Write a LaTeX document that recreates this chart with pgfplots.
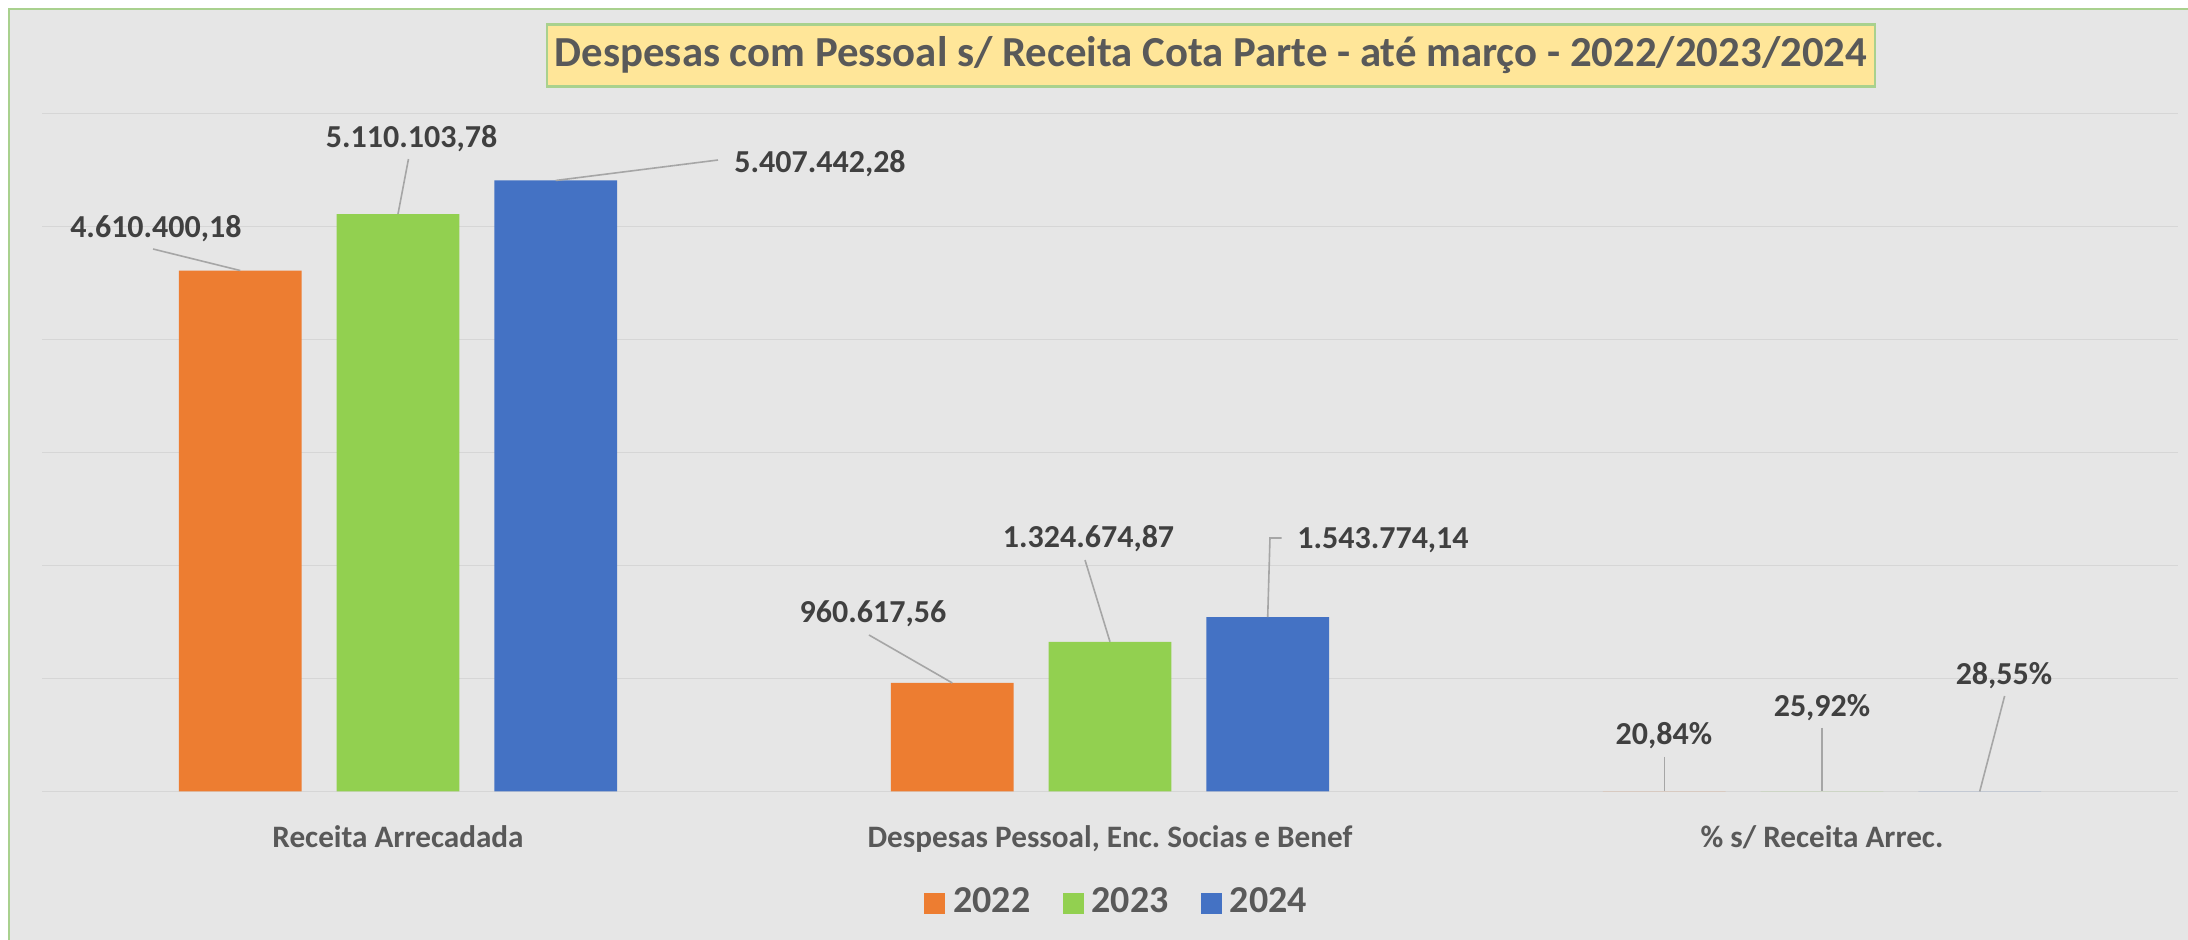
\documentclass[border=0pt]{standalone}
\usepackage{fontspec}
\setmainfont{Carlito}
\usepackage{pgfplots}
\pgfplotsset{compat=1.18}
\frenchspacing
\definecolor{c22}{HTML}{ED7D31}
\definecolor{c23}{HTML}{92D050}
\definecolor{c24}{HTML}{4472C4}
\definecolor{bgc}{HTML}{E6E6E6}
\definecolor{gridc}{HTML}{D6D6D6}
\definecolor{bordc}{HTML}{A9D18E}
\definecolor{titlec}{HTML}{FFE699}
\definecolor{labc}{HTML}{595959}
\definecolor{valc}{HTML}{404040}
\definecolor{leadc}{HTML}{A6A6A6}

\begin{document}
\begin{tikzpicture}[x=0.25pt,y=0.25pt,
  lab/.style={font=\fontsize{8}{9.6}\selectfont\bfseries, text=valc, anchor=base, inner sep=0pt},
  lead/.style={draw=leadc, line width=0.4pt}]
  % chart area (picture units = pixels of the reference)
  \fill[white] (0,0) rectangle (2188,940);
  \fill[bgc] (9,0) rectangle (2188,931);
  \draw[bordc, line width=0.7pt] (9,0) -- (9,931) -- (2188,931);

\begin{axis}[
  at={(10.5pt,37.125pt)}, anchor=south west,
  scale only axis, width=534pt, height=169.5pt,
  ybar, bar width=0.1725,
  xmin=-0.5, xmax=2.5, ymin=0, ymax=6000000,
  xtick={0,1,2},
  xticklabels={Receita Arrecadada, {Despesas Pessoal, Enc. Socias e Benef}, {\% s/ Receita Arrec.}},
  ytick={0,1000000,2000000,3000000,4000000,5000000,6000000},
  yticklabels={},
  scaled y ticks=false,
  ymajorgrids, grid style={draw=gridc, line width=0.45pt},
  axis line style={draw=none}, major tick style={draw=none},
  xticklabel style={font=\fontsize{7.8}{9}\selectfont\bfseries, text=labc, anchor=base, yshift=-9.8pt},
  clip=false,
  legend columns=3,
  legend image code/.code={\fill[#1] (0pt,-2.65pt) rectangle (5.3pt,2.65pt);},
  legend style={at={(0.5045,-0.165)}, anchor=center, draw=none, fill=none,
    font=\fontsize{9.5}{11}\selectfont\bfseries, text=labc,
    /tikz/every even column/.append style={column sep=6pt}},
]
  \addplot[fill=c22, draw=none, bar shift=-0.2215]
    coordinates {(0,4610400.18) (1,960617.56) (2,0.2084)};
  \addplot[fill=c23, draw=none, bar shift=0]
    coordinates {(0,5110103.78) (1,1324674.87) (2,0.2592)};
  \addplot[fill=c24, draw=none, bar shift=0.2215]
    coordinates {(0,5407442.28) (1,1543774.14) (2,0.2855)};
  \legend{2022, 2023, 2024}

  % data labels with leader lines
  \node[lab] at (axis cs:-0.340,4907080) {4.610.400,18};
  \draw[lead] (axis cs:-0.344,4800886) -- (axis cs:-0.2215,4610400.18);
  \node[lab] at (axis cs:0.019,5703540) {5.110.103,78};
  \draw[lead] (axis cs:0.0147,5597347) -- (axis cs:0,5110103.78);
  \node[lab] at (axis cs:0.5927,5482302) {5.407.442,28};
  \draw[lead] (axis cs:0.2215,5407442.28) -- (axis cs:0.4494,5588497);

  \node[lab] at (axis cs:0.667,1491150) {960.617,56};
  \draw[lead] (axis cs:0.6615,1384956) -- (axis cs:0.7785,960617.56);
  \node[lab] at (axis cs:0.9698,2163717) {1.324.674,87};
  \draw[lead] (axis cs:0.9649,2048673) -- (axis cs:1,1324674.87);
  \node[lab] at (axis cs:1.3834,2146018) {1.543.774,14};
  \draw[lead] (axis cs:1.241,2243363) -- (axis cs:1.2247,2243363) -- (axis cs:1.2215,1543774.14);

  \node[lab] at (axis cs:1.778,411504) {20,84\%};
  \draw[lead] (axis cs:1.7785,305310) -- (axis cs:1.7785,0.2084);
  \node[lab] at (axis cs:2.0,659292) {25,92\%};
  \draw[lead] (axis cs:2.0,561947) -- (axis cs:2.0,0.2592);
  \node[lab] at (axis cs:2.2556,942478) {28,55\%};
  \draw[lead] (axis cs:2.2565,845133) -- (axis cs:2.2215,0.2855);
\end{axis}

  \node[fill=titlec, draw=bordc, line width=0.6pt, text=labc,
        font=\fontsize{10.7}{12.8}\selectfont\bfseries,
        minimum height=15.5pt, inner xsep=2pt, inner ysep=0pt] at (1211,884.5)
    {Despesas com Pessoal s/ Receita Cota Parte - até março - 2022/2023/2024};

  \pgfresetboundingbox
  \path (0,0) rectangle (2188,940);
\end{tikzpicture}
\end{document}
